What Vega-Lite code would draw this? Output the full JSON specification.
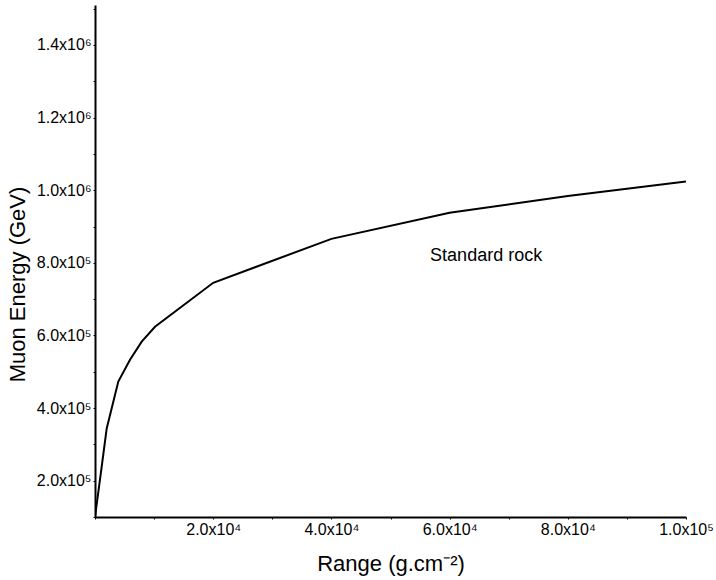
{
  "$schema": "https://vega.github.io/schema/vega-lite/v6.json",
  "width": 591,
  "height": 512,
  "autosize": {"type": "none"},
  "padding": {"left": 95, "top": 5, "right": 30, "bottom": 63},
  "config": {
    "view": {"stroke": null},
    "font": "Liberation Sans",
    "axis": {
      "grid": false,
      "domainColor": "#000000",
      "domainWidth": 2,
      "tickColor": "#000000",
      "tickWidth": 1,
      "labelFont": "Liberation Sans",
      "labelFontSize": 16,
      "labelColor": "#000000",
      "titleFont": "Liberation Sans",
      "titleFontSize": 22,
      "titleFontWeight": "normal",
      "titleColor": "#000000"
    }
  },
  "datasets": {
    "curve": [
      {"range": 0, "energy": 100000},
      {"range": 1134, "energy": 238600},
      {"range": 1980, "energy": 344000},
      {"range": 3942, "energy": 473000},
      {"range": 5922, "energy": 533000},
      {"range": 7902, "energy": 583000},
      {"range": 10152, "energy": 624000},
      {"range": 20000, "energy": 745000},
      {"range": 40000, "energy": 866000},
      {"range": 60000, "energy": 938000},
      {"range": 80000, "energy": 984000},
      {"range": 100000, "energy": 1024000}
    ],
    "label": [
      {"range": 56700, "energy": 805000, "text": "Standard rock"}
    ]
  },
  "encoding": {
    "x": {
      "field": "range",
      "type": "quantitative",
      "scale": {"domain": [0, 100000], "nice": false, "zero": false},
      "axis": {
        "title": "Range (g.cm⁻²)",
        "values": [0, 10000, 20000, 30000, 40000, 50000, 60000, 70000, 80000, 90000, 100000],
        "labelExpr": "datum.value > 0 && datum.value % 20000 == 0 ? (datum.value < 100000 ? format(datum.value/10000, '.1f') + 'x10⁴' : format(datum.value/100000, '.1f') + 'x10⁵') : ''",
        "tickSize": 2,
        "labelPadding": 2,
        "labelFlush": false,
        "labelOverlap": false,
        "titleY": 53,
        "titleBaseline": "alphabetic"
      }
    },
    "y": {
      "field": "energy",
      "type": "quantitative",
      "scale": {"domain": [100000, 1510000], "nice": false, "zero": false},
      "axis": {
        "title": "Muon Energy (GeV)",
        "values": [100000, 200000, 300000, 400000, 500000, 600000, 700000, 800000, 900000, 1000000, 1100000, 1200000, 1300000, 1400000, 1500000],
        "labelExpr": "(datum.value % 200000 == 0) ? (datum.value < 1000000 ? format(datum.value/100000, '.1f') + 'x10⁵' : format(datum.value/1000000, '.1f') + 'x10⁶') : ''",
        "tickSize": 2,
        "labelPadding": 2,
        "labelFlush": false,
        "labelOverlap": false,
        "labelBound": false,
        "titleAngle": -90,
        "titleX": -71,
        "titleY": 279,
        "titleAlign": "center",
        "titleBaseline": "alphabetic"
      }
    }
  },
  "layer": [
    {
      "data": {"name": "curve"},
      "mark": {"type": "line", "color": "#000000", "strokeWidth": 2, "clip": true}
    },
    {
      "data": {"name": "label"},
      "mark": {"type": "text", "align": "left", "baseline": "alphabetic", "fontSize": 18, "font": "Liberation Sans", "color": "#000000"},
      "encoding": {
        "text": {"field": "text"}
      }
    }
  ]
}
